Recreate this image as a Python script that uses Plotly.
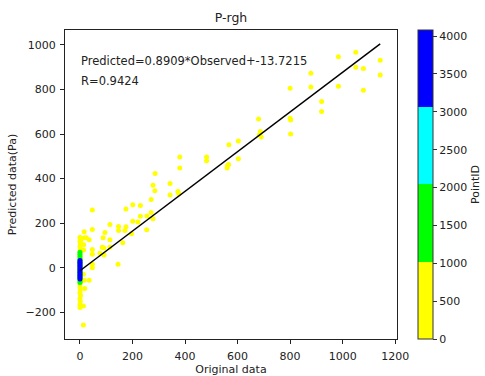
import plotly.graph_objects as go

# ---- data ----
yellow_obs = [984, 1050, 1143, 1050, 1079, 1143, 879, 879, 984, 1079, 800, 920, 920, 800, 802, 802,
              680, 687, 683, 690, 567, 603, 603, 380, 380, 482, 482, 562, 566, 560,
              286, 278, 285, 343, 343, 373, 376, 271, 271, 278, 255, 254, 230, 230, 221, 201, 201,
              196, 175, 175, 171, 163, 147, 147, 145, 114, 114, 114, 95, 88, 91, 85, 76, 92,
              47, 47, 47, 47, 47, 47, 35, 35, 24, 16, 16, 14, 14, 16, 18, 13, 13, 13,
              0, 1, 0, 2, 0, 1, 0, 0, 2, 0, 1, 0, 0, 1, 0, 2, 0, 0, 1, 0, 2, 0, 1, 0, 0, 3, 3]
yellow_pred = [947, 967, 931, 900, 894, 865, 873, 811, 814, 796, 805, 746, 701, 671, 663, 600,
               667, 611, 597, 587, 552, 569, 489, 497, 448, 497, 480, 459, 463, 448,
               423, 370, 346, 378, 326, 342, 333, 306, 248, 220, 232, 170, 279, 231, 205, 283, 208,
               152, 263, 184, 167, 112, 185, 167, 15, 194, 125, 92, 158, 134, 89, 92, 65, 57,
               259, 171, 82, 60, 16, 0, 125, -56, 134, 161, 134, 103, 80, -56, -93, -29, -172, -257,
               137, 130, 118, 105, 95, 82, 70, 55, 40, 25, 10, -5, -20, -35, -50, -65, -75, -88,
               -100, -112, -125, -138, -150, -165, -179, 120, -60]
yellow_id = [12, 25, 38, 51, 64, 77, 90, 103, 116, 129, 142, 155, 168, 181, 194, 207,
             220, 233, 246, 259, 272, 285, 298, 311, 324, 337, 350, 363, 376, 389,
             402, 415, 428, 441, 454, 467, 480, 493, 506, 519, 532, 545, 558, 571, 584, 597, 610,
             623, 636, 649, 662, 675, 688, 701, 714, 727, 740, 753, 766, 779, 792, 805, 818, 831,
             844, 857, 870, 883, 896, 909, 922, 935, 948, 961, 974, 987, 995, 8, 18, 28, 45, 58,
             72, 85, 98, 112, 135, 148, 162, 177, 190, 204, 218, 236, 250, 266, 280, 295, 470, 490,
             310, 330, 345, 360, 380, 395, 410, 430, 450]

green_obs = [0, 0, 0, 0, 0, 0, 0, 0, 0, 0, 0, 0, 0, 0, 0]
green_pred = [69, 60, 50, 40, 30, 20, 10, 0, -10, -20, -30, -40, -50, -60, -66]
green_id = [1100, 1160, 1220, 1290, 1350, 1420, 1480, 1550, 1610, 1680, 1740, 1810, 1870, 1930, 1990]

blue_obs = [0, 0, 0, 0, 0, 0, 0, 0, 0, 0, 0, 0]
blue_pred = [32, 25, 18, 10, 3, -5, -12, -20, -28, -35, -43, -51]
blue_id = [3100, 3180, 3260, 3340, 3420, 3500, 3590, 3670, 3750, 3840, 3920, 4000]

slope = 0.8909
intercept = -13.7215
r_value = 0.9424

x_ticks = [0, 200, 400, 600, 800, 1000, 1200]
y_ticks = [-200, 0, 200, 400, 600, 800, 1000]
cbar_ticks = [0, 500, 1000, 1500, 2000, 2500, 3000, 3500, 4000]

obs = yellow_obs + green_obs + blue_obs
pred = yellow_pred + green_pred + blue_pred
pid = yellow_id + green_id + blue_id

FONT = "DejaVu Sans"
TXT = "#222"
scale = [[0, "#ffff00"], [0.25, "#ffff00"], [0.25, "#00ff00"], [0.5, "#00ff00"],
         [0.5, "#00ffff"], [0.75, "#00ffff"], [0.75, "#0000ff"], [1, "#0000ff"]]

fig = go.Figure()
fig.add_trace(go.Scatter(
    x=obs, y=pred, mode="markers",
    marker=dict(size=5, color=pid, colorscale=scale, cmin=0, cmax=4080,
                colorbar=dict(
                    x=1.063, xanchor="left", xpad=0, ypad=0,
                    y=0.5, yanchor="middle", len=1, lenmode="fraction",
                    thickness=15, thicknessmode="pixels",
                    outlinewidth=1, outlinecolor="#333",
                    tickvals=cbar_ticks, ticks="outside", ticklen=4, tickcolor="#333",
                    tickfont=dict(family=FONT, size=11, color=TXT),
                    title=dict(text="PointID", side="right",
                               font=dict(family=FONT, size=11, color=TXT)),
                )),
    showlegend=False, hoverinfo="skip"))

x_end = max(obs)
fig.add_trace(go.Scatter(
    x=[0, x_end], y=[intercept, slope * x_end + intercept],
    mode="lines", line=dict(color="black", width=1.5), showlegend=False))

axis_common = dict(showgrid=False, zeroline=False, showline=True, mirror=True,
                   linecolor="#222", linewidth=1, ticks="outside", ticklen=4,
                   tickcolor="#222", tickfont=dict(family=FONT, size=11, color=TXT),
                   automargin=False)

fig.update_layout(
    width=485, height=376,
    margin=dict(l=65, r=88, t=30, b=37, autoexpand=False),
    paper_bgcolor="white", plot_bgcolor="white",
    title=dict(text="P-rgh", x=(65 + 397) / 2 / 485, xanchor="center", y=1 - 18 / 376,
               yanchor="middle", font=dict(family=FONT, size=12.5, color=TXT)),
    xaxis=dict(range=[-57, 1207], tickvals=x_ticks, ticklabelstandoff=3,
               title=dict(text="Original data", standoff=6,
                          font=dict(family=FONT, size=11, color=TXT)), **axis_common),
    yaxis=dict(range=[-320, 1067], tickvals=y_ticks, ticklabelstandoff=2,
               tickformat="d",
               title=dict(text="Predicted data(Pa)", standoff=6,
                          font=dict(family=FONT, size=11, color=TXT)), **axis_common),
    annotations=[
        dict(text=f"Predicted={slope}*Observed+{intercept}", xref="paper", yref="paper",
             x=0.042, y=0.90, xanchor="left", yanchor="middle", showarrow=False,
             font=dict(family=FONT, size=11.5, color=TXT)),
        dict(text=f"R={r_value}", xref="paper", yref="paper",
             x=0.042, y=0.835, xanchor="left", yanchor="middle", showarrow=False,
             font=dict(family=FONT, size=11.5, color=TXT)),
    ],
)

fig.write_html("out.html")
